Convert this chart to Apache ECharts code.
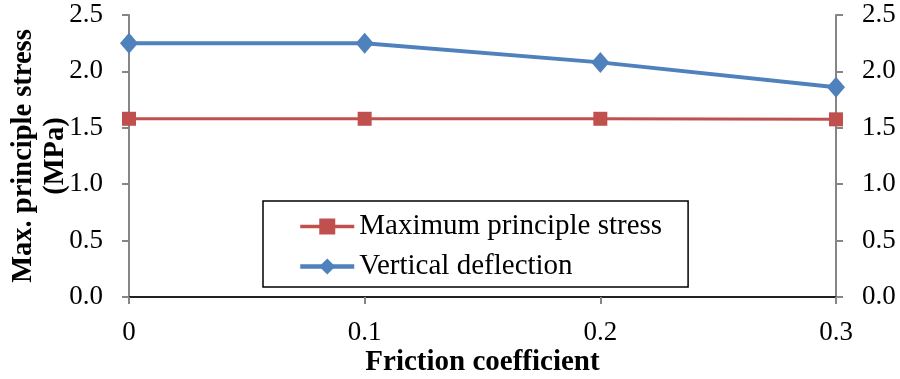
<!DOCTYPE html>
<html>
<head>
<meta charset="utf-8">
<script src="https://cdn.jsdelivr.net/npm/echarts@6/dist/echarts.min.js"></script>
<style>html,body{margin:0;padding:0;background:#fff}#c{width:900px;height:379px}</style>
</head>
<body>
<div id="c"></div>
<script>
const categories = ['0', '0.1', '0.2', '0.3'];
const maxPrincipleStress = [1.58, 1.58, 1.58, 1.575];
const verticalDeflection = [2.25, 2.25, 2.08, 1.86];
const yTicks = { min: 0, max: 2.5, interval: 0.5 };

const font = 'Liberation Serif';
const gray = '#868686';
const chart = echarts.init(document.getElementById('c'), null, { renderer: 'canvas' });
const yAxisBase = {
  type: 'value', min: yTicks.min, max: yTicks.max, interval: yTicks.interval,
  axisLine: { show: true, lineStyle: { color: gray, width: 2 } },
  axisTick: { show: true, length: 7, lineStyle: { color: gray, width: 2 } },
  splitLine: { show: false },
  axisLabel: { color: '#000', fontFamily: font, fontSize: 27, margin: 26, formatter: v => v.toFixed(1) }
};
chart.setOption({
  animation: false,
  grid: { left: 129, right: 64, top: 15, bottom: 82, containLabel: false, outerBoundsMode: 'none' },
  legend: {
    orient: 'vertical', left: 263, top: 201,
    borderColor: '#000', borderWidth: 1.5,
    padding: [11, 26, 6, 35], itemGap: 11,
    itemWidth: 54, itemHeight: 20,
    textStyle: { fontFamily: font, fontSize: 29, color: '#000' },
    data: [
      { name: 'Maximum principle stress', lineStyle: { width: 3.5 } },
      { name: 'Vertical deflection', lineStyle: { width: 4.5 } }
    ]
  },
  xAxis: [{
    type: 'category', data: categories, boundaryGap: false,
    name: 'Friction coefficient', nameLocation: 'middle', nameGap: 51, nameMoveOverlap: false,
    nameTextStyle: { fontFamily: font, fontSize: 29, fontWeight: 'bold', color: '#000' },
    axisLine: { lineStyle: { color: gray, width: 2 } },
    axisTick: { show: true, alignWithLabel: true, length: 7, lineStyle: { color: gray, width: 2 } },
    axisLabel: { color: '#000', fontFamily: font, fontSize: 27, margin: 22 }
  }, {
    type: 'category', data: categories, boundaryGap: false, position: 'top',
    axisLine: { show: true, lineStyle: { color: '#000', width: 1.5 } },
    axisTick: { show: false }, axisLabel: { show: false }
  }],
  yAxis: [Object.assign({}, yAxisBase, {
    position: 'left',
    name: 'Max. principle stress\n(MPa)', nameLocation: 'middle', nameGap: 57, nameRotate: 90,
    nameMoveOverlap: false,
    nameTextStyle: { fontFamily: font, fontSize: 28.5, fontWeight: 'bold', color: '#000', lineHeight: 32 }
  }), Object.assign({}, yAxisBase, { position: 'right' })],
  series: [{
    name: 'Maximum principle stress', type: 'line', data: maxPrincipleStress,
    symbol: 'rect', symbolSize: 14,
    itemStyle: { color: '#C0504D' }, lineStyle: { color: '#C0504D', width: 3 }
  }, {
    name: 'Vertical deflection', type: 'line', data: verticalDeflection,
    symbol: 'diamond', symbolSize: [18, 21],
    itemStyle: { color: '#4F81BD' }, lineStyle: { color: '#4F81BD', width: 4 }
  }]
});
</script>
</body>
</html>
